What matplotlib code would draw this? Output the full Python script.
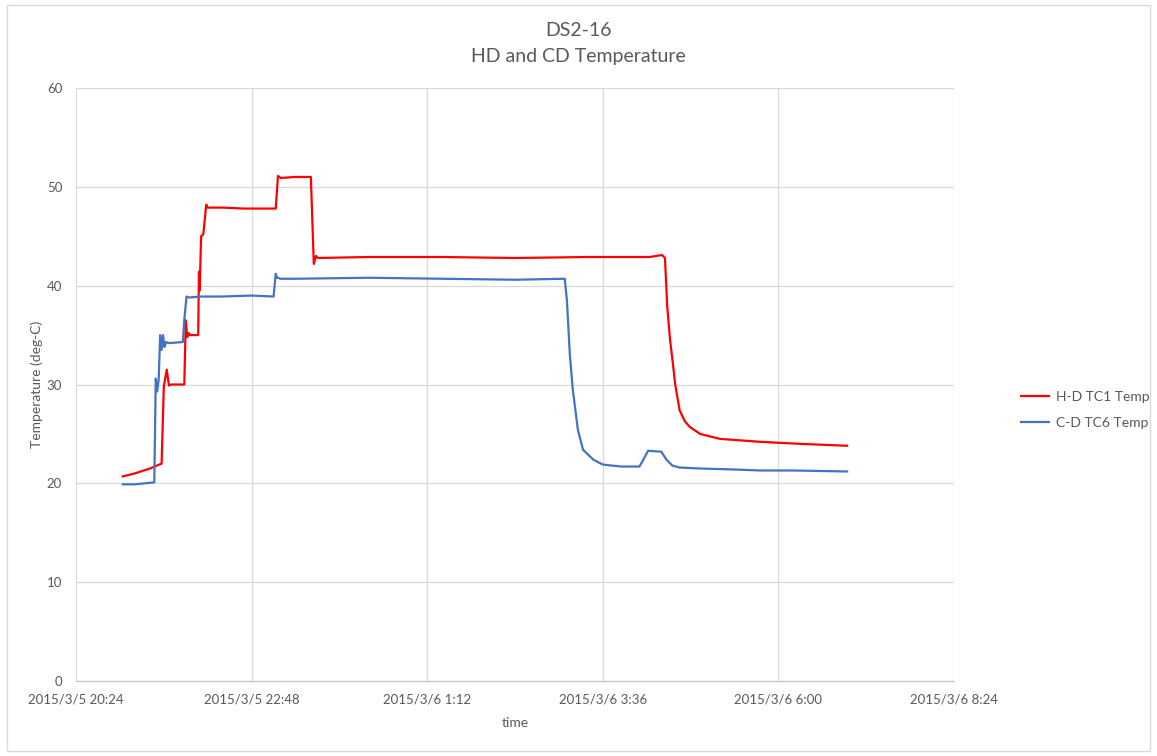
import pandas as pd
import numpy as np
import matplotlib
matplotlib.use('Agg')
import matplotlib.pyplot as plt
import matplotlib.dates as mdates
from matplotlib.patches import Rectangle

start = pd.Timestamp('2015-03-05 20:24')

# hours after 20:24 and temperature
red_h = [0.64, 0.80, 1.01, 1.17, 1.20, 1.24, 1.27, 1.30, 1.48, 1.50, 1.52, 1.54, 1.56, 1.67, 1.68,
         1.69, 1.71, 1.74, 1.78, 1.80, 2.00, 2.30, 2.73, 2.76, 2.80, 3.00, 3.21, 3.25, 3.28, 3.31,
         4.00, 5.00, 6.00, 7.00, 7.84, 8.01, 8.05, 8.08, 8.12, 8.16, 8.19, 8.25, 8.32, 8.39, 8.53,
         8.80, 9.35, 9.89, 10.54]
red_v = [20.7, 21.0, 21.5, 22.0, 29.8, 31.5, 29.9, 30.0, 30.0, 36.5, 34.8, 35.2, 35.0, 35.0, 41.4,
         39.5, 45.0, 45.2, 48.2, 47.9, 47.9, 47.8, 47.8, 51.1, 50.9, 51.0, 51.0, 42.2, 43.0, 42.8,
         42.9, 42.9, 42.8, 42.9, 42.9, 43.1, 42.8, 38.0, 34.5, 32.0, 30.0, 27.4, 26.3, 25.7, 25.0,
         24.5, 24.2, 24.0, 23.8]

blue_h = [0.64, 0.80, 1.07, 1.09, 1.11, 1.13, 1.15, 1.17, 1.19, 1.21, 1.23, 1.26, 1.30, 1.46, 1.48,
          1.51, 1.54, 1.70, 2.00, 2.40, 2.70, 2.73, 2.75, 2.80, 3.00, 4.00, 5.00, 6.00, 6.68, 6.71,
          6.75, 6.79, 6.86, 6.93, 7.07, 7.20, 7.45, 7.70, 7.74, 7.82, 8.00, 8.07, 8.15, 8.25, 8.53,
          9.00, 9.35, 9.80, 10.54]
blue_v = [19.9, 19.9, 20.1, 30.6, 29.3, 30.5, 35.0, 33.5, 35.0, 33.8, 34.3, 34.2, 34.2, 34.3, 36.5,
          38.9, 38.8, 38.9, 38.9, 39.0, 38.9, 41.2, 40.8, 40.7, 40.7, 40.8, 40.7, 40.6, 40.7, 38.5,
          33.0, 29.5, 25.4, 23.4, 22.4, 21.9, 21.7, 21.7, 22.2, 23.3, 23.2, 22.4, 21.8, 21.6, 21.5,
          21.4, 21.3, 21.3, 21.2]

red_t = [start + pd.Timedelta(hours=h) for h in red_h]
blue_t = [start + pd.Timedelta(hours=h) for h in blue_h]

gray = '#595959'
plt.rcParams['font.family'] = ['Lato', 'DejaVu Sans']

fig = plt.figure(figsize=(11.57, 7.56), dpi=100)
ax = fig.add_axes([0.0657, 0.0992, 0.7588, 0.7844])

ax.plot(red_t, red_v, color='#FF0000', lw=1.6, label='H-D TC1 Temp')
ax.plot(blue_t, blue_v, color='#4472C4', lw=1.6, label='C-D TC6 Temp')

ax.set_xlim(start, start + pd.Timedelta(hours=12))
ax.set_ylim(0, 60)
ax.set_yticks(range(0, 61, 10))
ticks = [start + pd.Timedelta(minutes=144 * i) for i in range(6)]
ax.set_xticks(ticks)
ax.set_xticklabels([f'2015/3/{t.day} {t.hour}:{t.minute:02d}' for t in ticks])

ax.grid(True, color='#d9d9d9', lw=0.9)
ax.set_axisbelow(True)
for s in ['top', 'left', 'right']:
    ax.spines[s].set_visible(False)
ax.spines['bottom'].set_color('#bfbfbf')
ax.tick_params(length=0, colors=gray, labelsize=9.5, pad=9)
ax.tick_params(axis='y', pad=10)

ax.set_xlabel('time', color=gray, fontsize=10, labelpad=8)
ax.set_ylabel('Temperature (deg-C)', color=gray, fontsize=10, labelpad=3)
fig.text(0.5, 0.96, 'DS2-16', color=gray, fontsize=14, ha='center', va='center')
fig.text(0.5, 0.925, 'HD and CD Temperature', color=gray, fontsize=14, ha='center', va='center')

leg = ax.legend(loc='center left', bbox_to_anchor=(1.062, 0.457), frameon=False,
                fontsize=10, handlelength=2.0, handletextpad=0.5, labelspacing=1.0)
for t in leg.get_texts():
    t.set_color(gray)

fig.patches.append(Rectangle((0.006, 0.007), 0.988, 0.986, transform=fig.transFigure,
                             fill=False, edgecolor='#d9d9d9', lw=1))

fig.savefig('out.png', dpi=100)
